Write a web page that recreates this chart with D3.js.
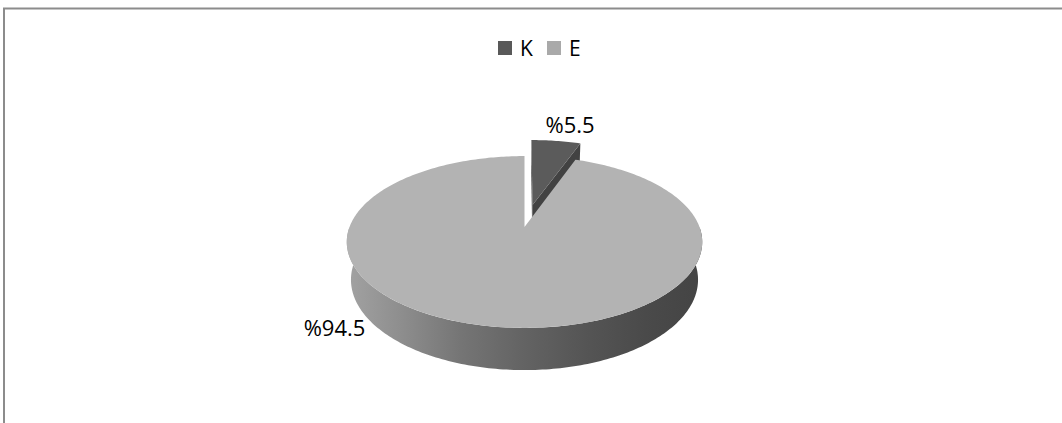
<!DOCTYPE html>
<html>
<head>
<meta charset="utf-8">
<script src="https://cdn.jsdelivr.net/npm/d3@7"></script>
<style>
  html, body { margin: 0; padding: 0; background: #fff; }
  svg { display: block; }
  text { font-family: "Open Sans", "Noto Sans", sans-serif; fill: #000; }
</style>
</head>
<body>
<svg id="chart" width="1062" height="423"></svg>
<script>
// ---- data ----
const categories = ["K", "E"];
const values = [5.5, 94.5];
const valueLabels = ["%5.5", "%94.5"];

// ---- style ----
const topColors = { K: "#5b5b5b", E: "#b3b3b3" };
const faceColors = { K: "#424242", E: "#8a8a8a" };
const legendColors = { K: "#595959", E: "#a9a9a9" };
const explode = { K: 0.28, E: 0 };

const W = 1062, H = 423;
const svg = d3.select("#chart");

// frame
svg.append("line").attr("x1", 3).attr("x2", W).attr("y1", 8.5).attr("y2", 8.5)
  .attr("stroke", "#8c8c8c").attr("stroke-width", 2);
svg.append("line").attr("x1", 4).attr("x2", 4).attr("y1", 8).attr("y2", H)
  .attr("stroke", "#8c8c8c").attr("stroke-width", 2);

// ---- 3D projection ----
const cx = 524.5, cy = 227, f = 882, D = 5.04;
const sa = 0.476, ca = Math.sqrt(1 - sa * sa);
const depthH = 0.248;
const cam = [0, D * ca, D * sa];

function proj(X, Y, Z) {
  const depth = D - (Y * ca + Z * sa);
  const up = -Y * sa + Z * ca;
  return [cx + f * X / depth, cy - f * up / depth];
}
function world(phi, r, off) {
  return [r * Math.sin(phi) + off[0], -r * Math.cos(phi) + off[1]];
}

const pie = d3.pie().sort(null).value(d => d.value).startAngle(0).endAngle(2 * Math.PI);
const arcs = pie(categories.map((c, i) => ({ cat: c, value: values[i], label: valueLabels[i] })));

const line = d3.line();
const defs = svg.append("defs");
const grad = defs.append("linearGradient").attr("id", "sideGrad")
  .attr("gradientUnits", "userSpaceOnUse")
  .attr("x1", 347).attr("x2", 702).attr("y1", 0).attr("y2", 0);
[[0, "#a2a2a2"], [0.15, "#8e8e8e"], [0.32, "#757575"], [0.5, "#636363"], [0.67, "#555555"], [0.84, "#4a4a4a"], [1, "#444444"]]
  .forEach(([o, c]) => grad.append("stop").attr("offset", o).attr("stop-color", c));

const g = svg.append("g");
const STEP = Math.PI / 180;

function arcPts(a0, a1, r, z, off) {
  const pts = [];
  const n = Math.max(2, Math.ceil(Math.abs(a1 - a0) / STEP));
  for (let i = 0; i <= n; i++) {
    const a = a0 + (a1 - a0) * i / n;
    const [X, Y] = world(a, r, off);
    pts.push(proj(X, Y, z));
  }
  return pts;
}

function faceVisible(psi, P) {
  const n = [Math.sin(psi), -Math.cos(psi), 0];
  return n[0] * (cam[0] - P[0]) + n[1] * (cam[1] - P[1]) + n[2] * (cam[2] - P[2]) > 0;
}

// draw back slices first
const order = arcs.slice().sort((a, b) =>
  -Math.cos((a.startAngle + a.endAngle) / 2) + Math.cos((b.startAngle + b.endAngle) / 2));

order.forEach(d => {
  const cat = d.data.cat;
  const mid = (d.startAngle + d.endAngle) / 2;
  const e = explode[cat];
  const off = [e * Math.sin(mid), -e * Math.cos(mid)];
  const o = proj(off[0], off[1], 0), ob = proj(off[0], off[1], -depthH);

  // radial faces
  [[d.startAngle, d.startAngle - Math.PI / 2], [d.endAngle, d.endAngle + Math.PI / 2]].forEach(([a, psi]) => {
    const [X, Y] = world(a, 0.5, off);
    if (faceVisible(psi, [X, Y, -depthH / 2])) {
      const [Xo, Yo] = world(a, 1, off);
      const pts = [o, proj(Xo, Yo, 0), proj(Xo, Yo, -depthH), ob];
      g.append("path").attr("d", line(pts) + "Z").attr("fill", faceColors[cat]);
    }
  });

  // outer side
  const s0 = Math.max(d.startAngle, Math.PI / 2), s1 = Math.min(d.endAngle, 3 * Math.PI / 2);
  if (s1 > s0) {
    const top = arcPts(s0, s1, 1, 0, off);
    const bot = arcPts(s1, s0, 1, -depthH, off);
    g.append("path").attr("d", line(top.concat(bot)) + "Z").attr("fill", "url(#sideGrad)");
  }

  // top face
  const pts = [o].concat(arcPts(d.startAngle, d.endAngle, 1, 0, off));
  g.append("path").attr("d", line(pts) + "Z").attr("fill", topColors[cat]);
});

// data labels
arcs.forEach(d => {
  const cat = d.data.cat;
  const mid = (d.startAngle + d.endAngle) / 2;
  const e = explode[cat];
  const off = [e * Math.sin(mid), -e * Math.cos(mid)];
  let x, y, anchor;
  if (cat === "K") {
    const [X, Y] = world(mid, 1.0, off);
    const p = proj(X, Y, 0);
    x = p[0] + 14; y = p[1] - 8; anchor = "middle";
  } else {
    const a = 243 * Math.PI / 180;
    const [X, Y] = world(a, 1.0, off);
    const p = proj(X, Y, -depthH);
    x = p[0] + 6; y = p[1] + 29; anchor = "end";
  }
  svg.append("text").attr("x", x).attr("y", y).attr("text-anchor", anchor)
    .attr("font-size", 22).text(d.data.label);
});

// legend
const legend = svg.append("g");
const legX = [498, 547];
categories.forEach((c, i) => {
  legend.append("rect").attr("x", legX[i]).attr("y", 41).attr("width", 14).attr("height", 14)
    .attr("fill", legendColors[c]);
  legend.append("text").attr("x", legX[i] + 22).attr("y", 56).attr("font-size", 21).text(c);
});
</script>
</body>
</html>
